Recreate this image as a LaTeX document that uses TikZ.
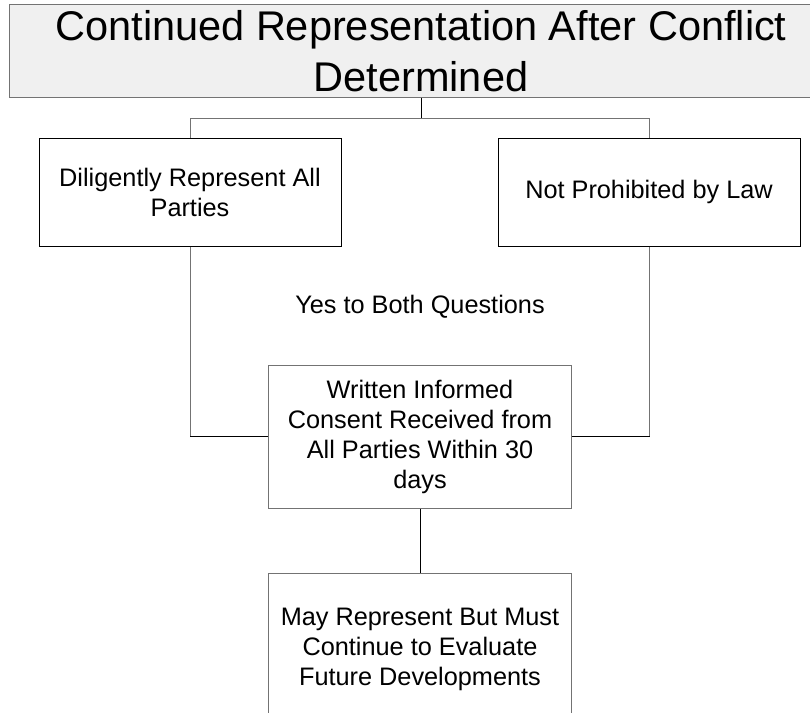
\documentclass[tikz,border=0pt]{standalone}
\usepackage{fontspec}
\setmainfont{Liberation Sans}
\tikzset{
  box/.style={draw=black, line width=1, align=center, inner sep=4,
    minimum width=302, minimum height=108,
    font=\fontsize{25.3}{30}\selectfont},
  greybox/.style={box, draw=black!55},
  link/.style={draw=black!55, line width=1},
  linkdark/.style={draw=black, line width=1}
}
\begin{document}
\begin{tikzpicture}[x=1pt,y=-1pt]
  \useasboundingbox (0,0) rectangle (810,712);

  \node[box, draw=black!55, fill=black!6, minimum width=824, minimum height=93,
    font=\fontsize{41.5}{51}\selectfont] (title) at (421,51)
    {Continued Representation After Conflict\\Determined};

  \node[box] (dil) at (190,192) {Diligently Represent All\\Parties};
  \node[box] (law) at (649,192) {Not Prohibited by Law};

  \node[font=\fontsize{25.3}{30}\selectfont] (yes) at (420,307) {Yes to Both Questions};

  \node[greybox, minimum width=303, minimum height=143] (wic) at (420,436.5)
    {Written Informed\\Consent Received from\\All Parties Within 30\\days};
  \node[greybox, minimum width=303, minimum height=152] (may) at (420,649)
    {May Represent But Must\\Continue to Evaluate\\Future Developments};

  \coordinate (split) at (421,118);
  \draw[linkdark] (title.south) -- (split);
  \draw[link] (split) -| (dil.north);
  \draw[link] (split) -| (law.north);

  \draw[link] (dil.south) |- (wic.west);
  \draw[link] (law.south) |- (wic.east);
  \draw[linkdark] (wic.west) -- ++(-78,0);
  \draw[linkdark] (wic.east) -- ++(78,0);
  \draw[linkdark] (wic.south) -- (may.north);
\end{tikzpicture}
\end{document}
